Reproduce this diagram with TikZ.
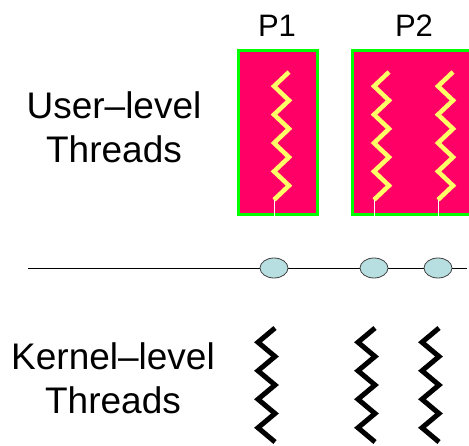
\documentclass[tikz,border=0pt]{standalone}
\usepackage{fontspec}
\setmainfont{Liberation Sans}
\usetikzlibrary{shapes.geometric}
\definecolor{procred}{RGB}{255,0,102}
\definecolor{procgreen}{RGB}{0,255,0}
\definecolor{threadyellow}{RGB}{255,255,102}
\definecolor{lwpblue}{RGB}{183,222,224}
\begin{document}
\begin{tikzpicture}[x=1pt,y=-1pt,
  proc/.style={draw=procgreen,line width=3pt,fill=procred,inner sep=0pt},
  lwp/.style={ellipse,draw=black!75,line width=0.8pt,fill=lwpblue,minimum width=28pt,minimum height=20pt,inner sep=0pt},
  utrd/.style={threadyellow,line width=4.5pt},
  ktrd/.style={black,line width=5pt},
  big/.style={font=\fontsize{37}{44}\selectfont,align=center,inner sep=0pt},
  plabel/.style={font=\fontsize{31}{36}\selectfont,inner sep=0pt}]
\clip (0,0) rectangle (469,445);
\node[proc,minimum width=79pt,minimum height=164pt] (p1) at (278,132.5) {};
\node[proc,minimum width=130pt,minimum height=164pt] (p2) at (417.5,132.5) {};
\node[plabel,anchor=base] (n1) at (277,36) {P1};
\node[plabel,anchor=base] (n2) at (414,36) {P2};
\node[big,anchor=base] (ul) at (114,162) {User–level\\Threads};
\node[big,anchor=base] (kl) at (113,413) {Kernel–level\\Threads};
% user threads
\foreach \x/\t in {274/t1,374/t2,438/t3}{
  \draw[utrd] (\x+15,72) \foreach \k in {1,...,9}{ -- ({\x+15*mod(\k+1,2)},{72+14.2*\k}) } coordinate (\t);
  \draw[white,line width=1pt] (\t) -- (\t |- p1.south);
}
% lwp line
\coordinate (l0) at (28,268);
\coordinate (l1) at (467,268);
\draw[line width=1pt] (l0) -- (l1);
\node[lwp] (w1) at (274,268) {};
\node[lwp] (w2) at (374,268) {};
\node[lwp] (w3) at (438,268) {};
% kernel threads
\foreach \x in {258,358,422}
  \draw[ktrd] (\x+17,328) \foreach \k in {1,...,8}{ -- ({\x+17*mod(\k+1,2)},{328+14.25*\k}) };
\end{tikzpicture}
\end{document}
